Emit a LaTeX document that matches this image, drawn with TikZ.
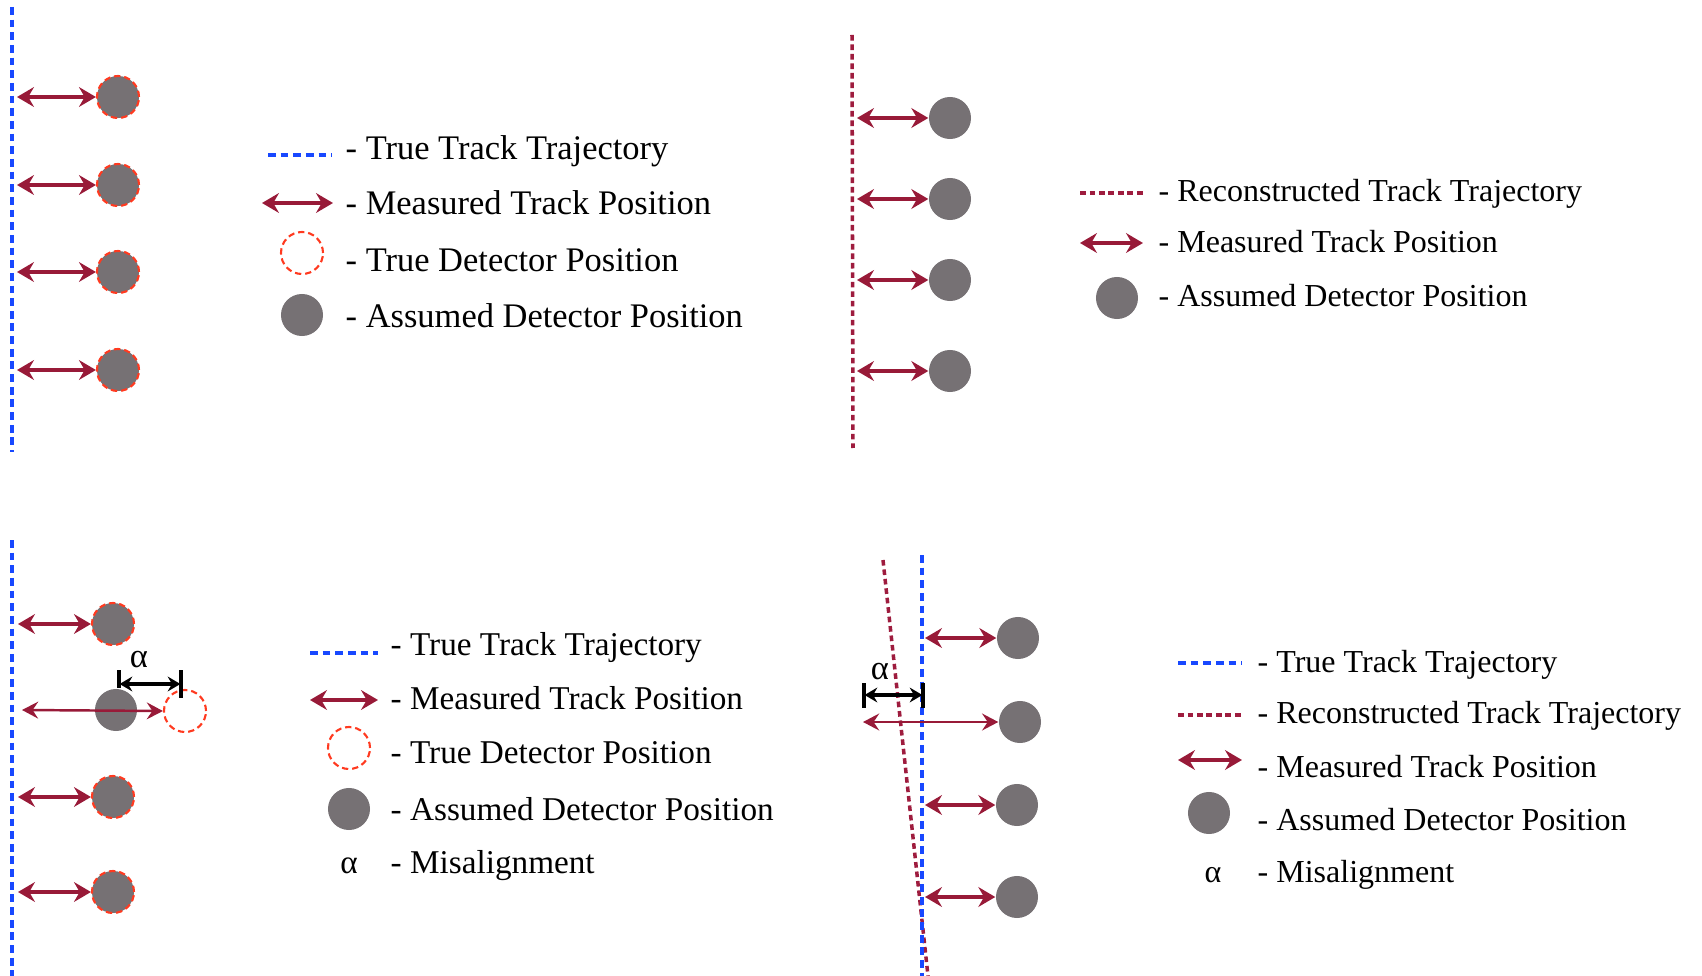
\documentclass[tikz,border=0pt]{standalone}
\usepackage{fontspec}
\setmainfont{Liberation Serif}
\RequirePackage{xcolor}
\definecolor{trackblue}{RGB}{24,72,255}
\definecolor{recored}{RGB}{158,28,62}
\definecolor{measred}{RGB}{152,26,56}
\definecolor{detgray}{RGB}{118,113,116}
\definecolor{trueorange}{RGB}{255,58,32}
\usetikzlibrary{arrows.meta}
\usetikzlibrary{positioning}
\tikzset{
  truetrack/.style={trackblue, line width=1pt, dash pattern=on 2.2pt off 1.4pt},
  recotrack/.style={recored, line width=1pt, dash pattern=on 1.6pt off 1.1pt},
  measured/.style={measred, line width=1.4pt,
    {Stealth[length=4.8pt,width=5.6pt,inset=1.6pt]}-{Stealth[length=4.8pt,width=5.6pt,inset=1.6pt]}},
  measthin/.style={measred, line width=0.7pt,
    {Stealth[length=4.6pt,width=4.8pt,inset=1.6pt]}-{Stealth[length=4.6pt,width=4.8pt,inset=1.6pt]}},
  misalign/.style={black, line width=1pt,
    {Stealth[length=3.6pt,width=4.2pt,inset=1.2pt]}-{Stealth[length=3.6pt,width=4.2pt,inset=1.2pt]}},
  tick/.style={black, line width=1.1pt},
  assumed/.style={circle, fill=detgray, inner sep=0pt, minimum size=0.42cm},
  truering/.style={draw=trueorange, line width=0.6pt, dash pattern=on 1.8pt off 1.1pt},
  truedet/.style={circle, inner sep=0pt, minimum size=0.42cm, truering},
  legtext/.style={anchor=base west, inner sep=0pt},
}
\newcommand{\legsize}[1]{\fontsize{#1}{12}\selectfont}

\begin{document}
\begin{tikzpicture}[x=0.01cm, y=-0.01cm]
  \useasboundingbox (0,0) rectangle (1702,976);

  % top left
  \draw [truetrack] (12,7) coordinate (tt1) -- (12,452);
  \foreach \i/\y in {1/97, 2/185, 3/272, 4/370} {
    \node [assumed, truering] (da\i) at (118,\y) {};
    \coordinate (ma\i) at (17,\y);
    \draw [measured] (ma\i) -- (da\i.west);
  }

  \begin{scope}[every node/.style={legtext, font=\legsize{9.8}}]
    \node (la1) at (345,160) {- True Track Trajectory};
    \node (la2) at (345,215) {- Measured Track Position};
    \node (la3) at (345,272) {- True Detector Position};
    \node (la4) at (345,328) {- Assumed Detector Position};
  \end{scope}
  \draw [truetrack] (268,155) -- (332,155);
  \draw [measured] (262,203) -- (333,203);
  \node [truedet] (lar) at (302,253) {};
  \node [assumed] (lad) at (302,315) {};

  % top right
  \draw [recotrack] (852,35) -- (853,448);
  \foreach \i/\y in {1/118, 2/199, 3/280, 4/371} {
    \node [assumed] (db\i) at (950,\y) {};
    \coordinate (mb\i) at (857,\y);
    \draw [measured] (mb\i) -- (db\i.west);
  }

  \begin{scope}[every node/.style={legtext, font=\legsize{9.1}}]
    \node (lb1) at (1158,202) {- Reconstructed Track Trajectory};
    \node (lb2) at (1158,253) {- Measured Track Position};
    \node (lb3) at (1158,307) {- Assumed Detector Position};
  \end{scope}
  \draw [recotrack] (1080,193) -- (1143,193);
  \draw [measured] (1080,243) -- (1143,243);
  \node [assumed] (lbd) at (1117,298) {};

  % bottom left
  \draw [truetrack] (12,540) -- (12,976);
  \foreach \i/\y in {1/624, 3/797, 4/892} {
    \node [assumed, truering] (dc\i) at (113,\y) {};
    \coordinate (mc\i) at (18,\y);
    \draw [measured] (mc\i) -- (dc\i.west);
  }
  \node [assumed] (dc2) at (116,710) {};
  \node [truedet] (tc2) at (185,711) {};
  \coordinate (mc2) at (22,710);
  \draw [measthin] (mc2) -- (tc2.west);
  \draw [tick] (119,670) -- (119,688);
  \draw [tick] (181,670) -- (181,698);
  \draw [misalign] (119.6,684) -- (180.4,684);
  \node [font=\legsize{9.8}, inner sep=0pt] (ac) at (139,660) {α};

  \begin{scope}[every node/.style={legtext, font=\legsize{9.45}}]
    \node (lc1) at (390,655) {- True Track Trajectory};
    \node (lc2) at (390,709) {- Measured Track Position};
    \node (lc3) at (390,763) {- True Detector Position};
    \node (lc4) at (390,820) {- Assumed Detector Position};
    \node (lc5) at (390,873) {- Misalignment};
    \node [anchor=base] (lca) at (349,873) {α};
  \end{scope}
  \draw [truetrack] (310,653) -- (378,653);
  \draw [measured] (310,700) -- (378,700);
  \node [truedet] (lcr) at (349,748) {};
  \node [assumed] (lcd) at (349,809) {};

  % bottom right
  \draw [recotrack] (883,560) -- (928,976);
  \draw [truetrack] (922,555) -- (922,976);
  \foreach \i/\y/\x in {1/638/1018, 3/805/1017, 4/897/1017} {
    \node [assumed] (dd\i) at (\x,\y) {};
    \coordinate (md\i) at (925,\y);
    \draw [measured] (md\i) -- (dd\i.west);
  }
  \node [assumed] (dd2) at (1020,722) {};
  \coordinate (md2) at (863,722);
  \draw [measthin] (md2) -- (dd2.west);
  \draw [tick] (864,683) -- (864,708);
  \draw [tick] (923,683) -- (923,708);
  \draw [misalign] (864.6,695) -- (922.4,695);
  \node [font=\legsize{9.8}, inner sep=0pt] (ad) at (880,672) {α};

  \begin{scope}[every node/.style={legtext, font=\legsize{9.1}}]
    \node (ld1) at (1257,672) {- True Track Trajectory};
    \node (ld2) at (1257,723) {- Reconstructed Track Trajectory};
    \node (ld3) at (1257,777) {- Measured Track Position};
    \node (ld4) at (1257,830) {- Assumed Detector Position};
    \node (ld5) at (1257,882) {- Misalignment};
    \node [anchor=base] (lda) at (1213,882) {α};
  \end{scope}
  \draw [truetrack] (1178,663) -- (1242,663);
  \draw [recotrack] (1178,715) -- (1242,715);
  \draw [measured] (1178,760) -- (1242,760);
  \node [assumed] (ldd) at (1209,813) {};
\end{tikzpicture}
\end{document}
